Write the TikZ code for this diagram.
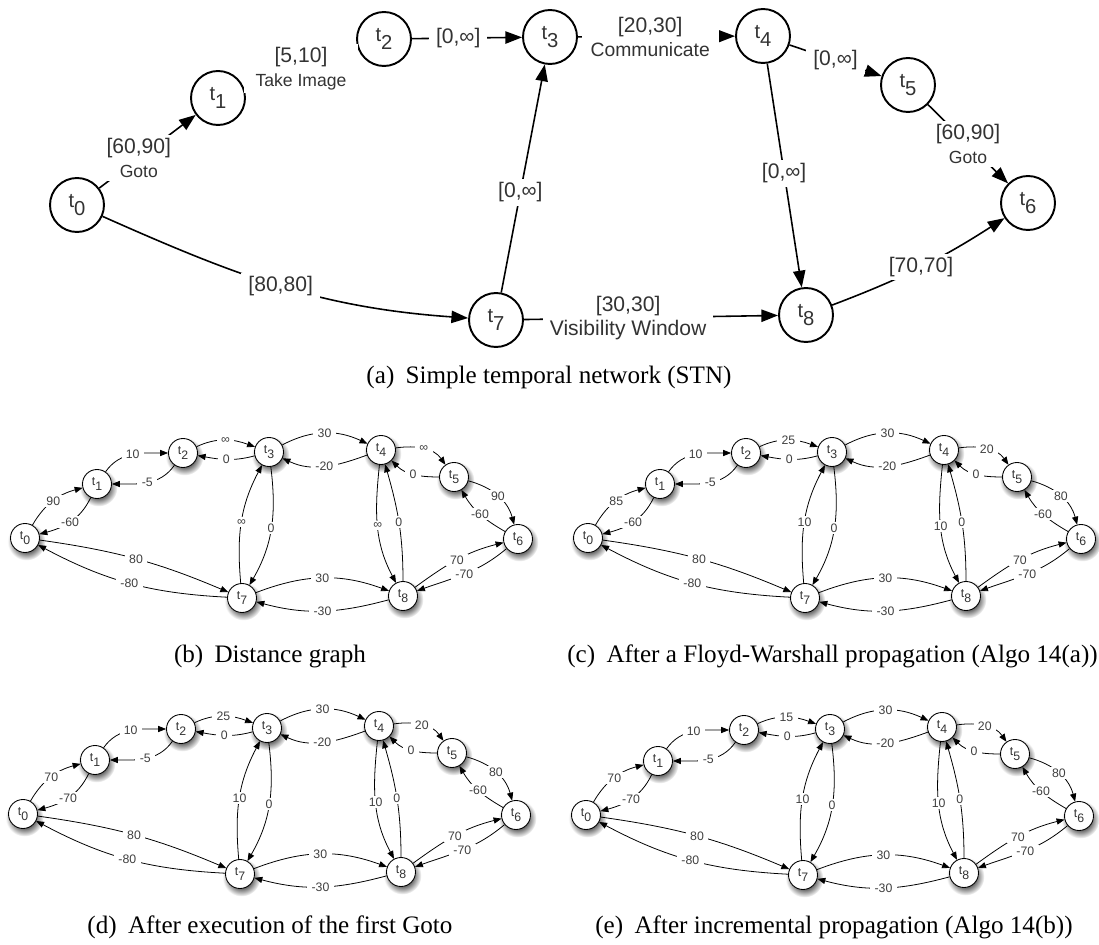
\documentclass[tikz,border=0pt]{standalone}
\usepackage{fontspec}
\setmainfont{Liberation Serif}
\setsansfont{Liberation Sans}
\usetikzlibrary{arrows.meta}
\pgfdeclareradialshading{nshadow}{\pgfpointorigin}{color(0bp)=(black!60); color(14bp)=(black!60); color(25bp)=(white); color(50bp)=(white)}
\newcommand\tsub[1]{t\raisebox{-0.42em}{#1}}
\tikzset{
  bign/.style={circle, draw, line width=1.1pt, fill=white, minimum size=1.08cm, inner sep=0pt,
    font=\fontsize{11.5}{12}\selectfont\sffamily, text=black!80},
  sn/.style={circle, draw, line width=0.5pt, fill=white, minimum size=0.58cm, inner sep=0pt,
    font=\fontsize{7}{8}\selectfont\sffamily, text=black!80},
  be/.style={line width=0.9pt, -{Triangle[length=9.5pt,width=7pt]}},
  se/.style={line width=0.45pt, -{Triangle[length=4.5pt,width=3.5pt]}},
  bl/.style={fill=white, inner xsep=4pt, inner ysep=2pt, font=\fontsize{12}{13.6}\selectfont\sffamily,
    text=black!80, align=center},
  sl/.style={fill=white, inner xsep=2.5pt, inner ysep=1pt, font=\fontsize{7}{7}\selectfont\sffamily,
    text=black!75},
  captxt/.style={font=\fontsize{14.3}{16}\selectfont\rmfamily, inner sep=0pt},
}
\newcommand\sgn[4]{%
  \shade[shading=nshadow] ({#2+1.5},{#3+3.5}) circle (19);
  \node[sn] (#1) at (#2,#3) {\tsub{#4}};}
% #1 prefix, #2 e01, #3 e10, #4 e23, #5 e45, #6 e56, #7 e73, #8 e48
\newcommand\stngraph[8]{%
  \sgn{#1t0}{25}{538}{0}
  \sgn{#1t1}{97}{484}{1}
  \sgn{#1t2}{183}{453}{2}
  \sgn{#1t3}{269}{452}{3}
  \sgn{#1t4}{381}{450}{4}
  \sgn{#1t5}{454}{477}{5}
  \sgn{#1t6}{518}{539}{6}
  \sgn{#1t7}{242}{598}{7}
  \sgn{#1t8}{403}{596}{8}
  \draw[se] (#1t0) to[out=60,in=195] node[sl]{#2} (#1t1);
  \draw[se] (#1t1) to[out=245,in=15] node[sl]{#3} (#1t0);
  \draw[se] (#1t1) to[out=55,in=180] node[sl]{10} (#1t2);
  \draw[se] (#1t2) to[out=235,in=0] node[sl]{-5} (#1t1);
  \draw[se] (#1t2) to[out=25,in=160] node[sl]{#4} (#1t3);
  \draw[se] (#1t3) to[out=195,in=-10] node[sl]{0} (#1t2);
  \draw[se] (#1t3) to[out=28,in=155] node[sl]{30} (#1t4);
  \draw[se] (#1t4) to[out=200,in=-25] node[sl]{-20} (#1t3);
  \draw[se] (#1t4) to[out=8,in=125] node[sl]{#5} (#1t5);
  \draw[se] (#1t5) to[out=180,in=-45] node[sl]{0} (#1t4);
  \draw[se] (#1t5) to[out=-15,in=105] node[sl]{#6} (#1t6);
  \draw[se] (#1t6) to[out=150,in=-60] node[sl]{-60} (#1t5);
  \draw[se] (#1t0) to[out=-8,in=157] node[sl]{80} (#1t7);
  \draw[se] (#1t7) to[out=177,in=-28] node[sl]{-80} (#1t0);
  \draw[se] (#1t7) to[out=95,in=-118] node[sl]{#7} (#1t3);
  \draw[se] (#1t3) to[out=-83,in=60] node[sl]{0} (#1t7);
  \draw[se] (#1t4) to[out=-96,in=118] node[sl]{#8} (#1t8);
  \draw[se] (#1t8) to[out=90,in=-74] node[sl]{0} (#1t4);
  \draw[se] (#1t7) to[out=21,in=160] node[sl]{30} (#1t8);
  \draw[se] (#1t8) to[out=195,in=-15] node[sl]{-30} (#1t7);
  \draw[se] (#1t8) to[out=36,in=194] node[sl]{70} (#1t6);
  \draw[se] (#1t6) to[out=220,in=20] node[sl]{-70} (#1t8);
}
\begin{document}
\begin{tikzpicture}[x=0.02cm, y=-0.02cm]
\useasboundingbox (0,0) rectangle (1099,945);
% ---------- (a) ----------
\node[bign] (a0) at (77,205) {\tsub{0}};
\node[bign] (a1) at (218,98) {\tsub{1}};
\node[bign] (a2) at (384,39) {\tsub{2}};
\node[bign] (a3) at (550,37) {\tsub{3}};
\node[bign] (a4) at (763,36) {\tsub{4}};
\node[bign] (a5) at (908,85) {\tsub{5}};
\node[bign] (a6) at (1028,203) {\tsub{6}};
\node[bign] (a7) at (496,320) {\tsub{7}};
\node[bign] (a8) at (806,315) {\tsub{8}};
\draw[be] (a0) -- node[bl, pos=0.41]{[60,90]\\{\fontsize{10}{12}\selectfont Goto}} (a1);
\draw[be] (a1) -- node[bl, pos=0.5, minimum width=2.28cm]{[5,10]\\{\fontsize{10}{12}\selectfont Take Image}} (a2);
\draw[be] (a2) -- node[bl, pos=0.42]{[0,∞]} (a3);
\draw[be] (a3) -- node[bl, pos=0.46, inner xsep=5pt]{[20,30]\\{\fontsize{11}{12}\selectfont Communicate}} (a4);
\draw[be] (a4) -- node[bl, pos=0.5]{[0,∞]} (a5);
\draw[be] (a5) -- node[bl, pos=0.5]{[60,90]\\{\fontsize{10}{12}\selectfont Goto}} (a6);
\draw[be] (a0) to[out=-24,in=176] node[bl, pos=0.5]{[80,80]} (a7);
\draw[be] (a7) -- node[bl, pos=0.44]{[0,∞]} (a3);
\draw[be] (a7) -- node[bl, pos=0.41]{[30,30]\\Visibility Window} (a8);
\draw[be] (a4) -- node[bl, pos=0.49]{[0,∞]} (a8);
\draw[be] (a8) to[bend right=6] node[bl, pos=0.5]{[70,70]} (a6);
\node[captxt] (capa) at (549,377) {(a)\hspace{0.45em}Simple temporal network (STN)};
% ---------- (b)-(e) ----------
\begin{scope}
\stngraph{b}{90}{-60}{∞}{∞}{90}{∞}{∞}
\end{scope}
\begin{scope}[shift={(563,0)}]
\stngraph{c}{85}{-60}{25}{20}{80}{10}{10}
\end{scope}
\begin{scope}[shift={(-2,276)}]
\stngraph{d}{70}{-70}{25}{20}{80}{10}{10}
\end{scope}
\begin{scope}[shift={(561,277)}]
\stngraph{e}{70}{-70}{15}{20}{80}{10}{10}
\end{scope}
\node[captxt] (capb) at (270,656) {(b)\hspace{0.45em}Distance graph};
\node[captxt, anchor=west] (capc) at (567,656) {(c)\hspace{0.45em}After a Floyd-Warshall propagation (Algo 14(a))};
\node[captxt] (capd) at (270,927) {(d)\hspace{0.45em}After execution of the first Goto};
\node[captxt] (cape) at (834,927) {(e)\hspace{0.45em}After incremental propagation (Algo 14(b))};
\end{tikzpicture}
\end{document}
